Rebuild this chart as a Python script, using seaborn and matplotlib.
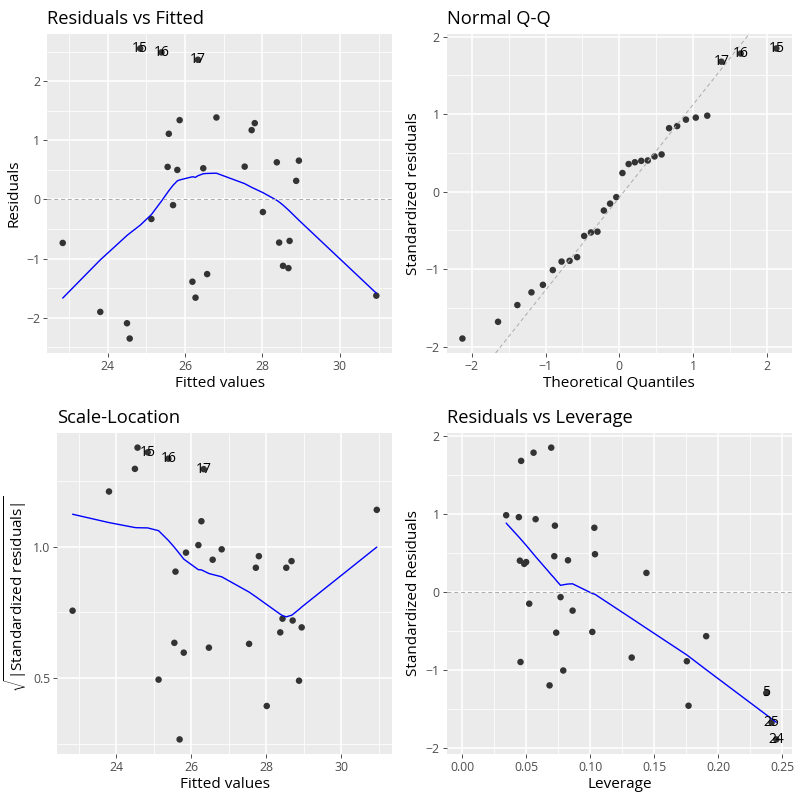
import numpy as np
import pandas as pd
import matplotlib
matplotlib.use('Agg')
import matplotlib.pyplot as plt
from matplotlib.ticker import AutoMinorLocator, MultipleLocator, FormatStrFormatter
import seaborn as sns
from statistics import NormalDist

# nilai (per observasi)
obs_id = [1, 2, 25, 24, 15, 16, 17, 3, 4, 6, 7, 8, 9, 10, 11,
          12, 13, 14, 18, 19, 20, 21, 22, 23, 26, 27, 28, 29, 30, 5]
fitted = [22.84, 23.81, 24.50, 24.57, 24.84, 25.39, 26.33, 25.13, 25.55, 25.58,
          25.86, 25.80, 25.69, 26.19, 26.27, 26.47, 26.57, 26.81, 27.54, 27.72,
          27.80, 28.01, 28.37, 28.43, 28.53, 28.67, 28.70, 28.87, 28.94, 30.94]
resid = [-0.736, -1.904, -2.096, -2.355, 2.556, 2.490, 2.365, -0.331, 0.551, 1.112,
         1.343, 0.500, -0.096, -1.393, -1.663, 0.528, -1.264, 1.388, 0.556, 1.174,
         1.292, -0.213, 0.629, -0.730, -1.124, -1.163, -0.702, 0.315, 0.657, -1.629]
std_resid = [-0.572, -1.464, -1.680, -1.896, 1.847, 1.782, 1.677, -0.244, 0.402, 0.819,
             0.955, 0.356, -0.071, -1.012, -1.203, 0.379, -0.903, 0.980, 0.397, 0.846,
             0.929, -0.155, 0.454, -0.527, -0.846, -0.893, -0.517, 0.240, 0.480, -1.300]
leverage = [0.1905, 0.1767, 0.2416, 0.2453, 0.0694, 0.0556, 0.0459, 0.0861, 0.0825, 0.1031,
            0.0441, 0.0483, 0.0767, 0.0788, 0.0681, 0.0498, 0.0454, 0.0342, 0.0449, 0.0723,
            0.0572, 0.0522, 0.0718, 0.0733, 0.1323, 0.1754, 0.1015, 0.1438, 0.1036, 0.2375]

df = pd.DataFrame({'obs': obs_id, 'fitted': fitted, 'resid': resid,
                   'std_resid': std_resid, 'leverage': leverage})
df['sqrt_std'] = np.sqrt(np.abs(df['std_resid']))
df['cooks'] = df['std_resid'] ** 2 * df['leverage'] / (1 - df['leverage'])
n = len(df)


def lowess(x, y, f=2 / 3, it=3):
    # versi sederhana dari lowess() di R
    idx = np.argsort(x, kind='stable')
    x = np.asarray(x, float)[idx]
    y = np.asarray(y, float)[idx]
    m = len(x)
    ns = max(min(int(f * m + 1e-7), m), 2)
    rng = x[-1] - x[0]
    rw = np.ones(m)
    ys = np.zeros(m)
    for step in range(it + 1):
        for i in range(m):
            d = np.abs(x - x[i])
            h = np.sort(d)[ns - 1]
            w = np.zeros(m)
            inside = d <= 0.999 * h
            w[inside] = np.where(d[inside] <= 0.001 * h, 1.0,
                                 (1 - (d[inside] / h) ** 3) ** 3)
            w = w * rw
            w = w / w.sum()
            a = np.sum(w * x)
            b = np.sum(w * (x - a) ** 2)
            if np.sqrt(b) > 0.001 * rng:
                w = w * ((x[i] - a) / b * (x - a) + 1)
            ys[i] = np.sum(w * y)
        if step == it:
            break
        res = y - ys
        cmad = 6 * np.median(np.abs(res))
        r = np.abs(res / cmad)
        rw = np.where(r < 0.001, 1.0, np.where(r <= 0.999, (1 - r ** 2) ** 2, 0.0))
    return x, ys


sns.set_theme(style="darkgrid", rc={
    'axes.facecolor': '#EBEBEB',
    'grid.color': 'white',
    'axes.edgecolor': '#EBEBEB',
    'axes.linewidth': 0,
})
plt.rcParams['font.family'] = ['Open Sans', 'DejaVu Sans']
plt.rcParams['mathtext.fontset'] = 'custom'
plt.rcParams['mathtext.rm'] = 'Open Sans'
plt.rcParams['mathtext.it'] = 'Open Sans:italic'
plt.rcParams['mathtext.bf'] = 'Open Sans:bold'

fig = plt.figure(figsize=(8, 8), dpi=100)
fig.patch.set_facecolor('white')
ax1 = fig.add_axes([0.0588, 0.5587, 0.4312, 0.3988])
ax2 = fig.add_axes([0.5584, 0.5587, 0.4316, 0.3988])
ax3 = fig.add_axes([0.0717, 0.0575, 0.4183, 0.4012])
ax4 = fig.add_axes([0.5584, 0.0575, 0.4316, 0.4012])

pt_color = '#333333'
top_resid = df.loc[df['resid'].abs().sort_values(ascending=False).index[:3]]
top_cook = df.loc[df['cooks'].sort_values(ascending=False).index[:3]]


def gaya(ax, title, xlabel, ylabel):
    ax.set_title(title, loc='left', fontsize=13.2, color='black', pad=7)
    ax.set_xlabel(xlabel, fontsize=11, color='black', labelpad=2)
    ax.set_ylabel(ylabel, fontsize=11, color='black', labelpad=3)
    ax.xaxis.set_minor_locator(AutoMinorLocator(2))
    ax.yaxis.set_minor_locator(AutoMinorLocator(2))
    ax.grid(which='major', color='white', linewidth=1.1)
    ax.grid(which='minor', color='white', linewidth=0.55)
    ax.tick_params(which='major', length=3, width=0.6, color='#333333',
                   labelsize=8.8, labelcolor='#4D4D4D', pad=2, bottom=True, left=True)
    ax.tick_params(which='minor', length=0)
    ax.set_axisbelow(True)


def label_titik(ax, data, xcol, ycol):
    for _, row in data.iterrows():
        ax.text(row[xcol], row[ycol], str(int(row['obs'])), ha='center', va='center',
                fontsize=10, color='black')


# 1. Residuals vs Fitted
sns.scatterplot(data=df, x='fitted', y='resid', color=pt_color, s=22, edgecolor='none', ax=ax1)
lx, ly = lowess(df['fitted'], df['resid'])
sns.lineplot(x=lx, y=ly, color='blue', linewidth=1.0, sort=False, estimator=None, ax=ax1)
ax1.axhline(0, color='#AAAAAA', linestyle='--', linewidth=0.7, dashes=(4, 3))
label_titik(ax1, top_resid, 'fitted', 'resid')
ax1.margins(0.05)
ax1.xaxis.set_major_locator(MultipleLocator(2))
ax1.yaxis.set_major_locator(MultipleLocator(1))
gaya(ax1, 'Residuals vs Fitted', 'Fitted values', 'Residuals')

# 2. Normal Q-Q
qq = df.sort_values('std_resid').reset_index(drop=True)
nd = NormalDist()
qq['theo'] = [nd.inv_cdf((i + 0.5) / n) for i in range(n)]
sns.scatterplot(data=qq, x='theo', y='std_resid', color=pt_color, s=22, edgecolor='none', ax=ax2)
q1, q3 = np.quantile(qq['std_resid'], [0.25, 0.75])
x1, x3 = nd.inv_cdf(0.25), nd.inv_cdf(0.75)
slope = (q3 - q1) / (x3 - x1)
ax2.axline((x1, q1), slope=slope, color='#AAAAAA', linestyle='--', linewidth=0.7, dashes=(4, 3))
label_titik(ax2, qq[qq['obs'].isin(top_resid['obs'])], 'theo', 'std_resid')
ax2.margins(0.05)
ax2.xaxis.set_major_locator(MultipleLocator(1))
ax2.yaxis.set_major_locator(MultipleLocator(1))
gaya(ax2, 'Normal Q-Q', 'Theoretical Quantiles', 'Standardized residuals')

# 3. Scale-Location
sns.scatterplot(data=df, x='fitted', y='sqrt_std', color=pt_color, s=22, edgecolor='none', ax=ax3)
lx, ly = lowess(df['fitted'], df['sqrt_std'])
sns.lineplot(x=lx, y=ly, color='blue', linewidth=1.0, sort=False, estimator=None, ax=ax3)
label_titik(ax3, top_resid, 'fitted', 'sqrt_std')
ax3.margins(0.05)
ax3.xaxis.set_major_locator(MultipleLocator(2))
ax3.yaxis.set_major_locator(MultipleLocator(0.5))
ax3.yaxis.set_major_formatter(FormatStrFormatter('%.1f'))
gaya(ax3, 'Scale-Location', 'Fitted values', r'$\sqrt{|\mathrm{Standardized\ residuals}|}$')

# 4. Residuals vs Leverage
sns.scatterplot(data=df, x='leverage', y='std_resid', color=pt_color, s=22, edgecolor='none', ax=ax4)
lx, ly = lowess(df['leverage'], df['std_resid'])
sns.lineplot(x=lx, y=ly, color='blue', linewidth=1.0, sort=False, estimator=None, ax=ax4)
ax4.axhline(0, color='#AAAAAA', linestyle='--', linewidth=0.7, dashes=(4, 3))
label_titik(ax4, top_cook, 'leverage', 'std_resid')
ax4.margins(0.05)
lev_max = df['leverage'].max()
ax4.set_xlim(-0.05 * lev_max, 1.05 * lev_max)
ax4.xaxis.set_major_locator(MultipleLocator(0.05))
ax4.xaxis.set_major_formatter(FormatStrFormatter('%.2f'))
ax4.yaxis.set_major_locator(MultipleLocator(1))
gaya(ax4, 'Residuals vs Leverage', 'Leverage', 'Standardized Residuals')

fig.savefig('out.png', dpi=100)
plt.close(fig)
